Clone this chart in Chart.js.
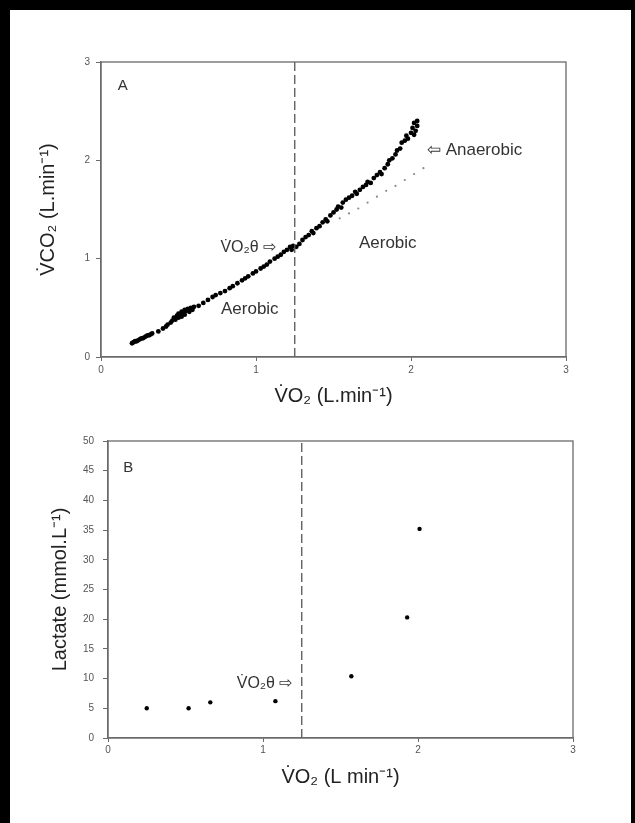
<!DOCTYPE html>
<html>
<head>
<meta charset="utf-8">
<script src="https://cdn.jsdelivr.net/npm/chart.js@4/dist/chart.umd.min.js"></script>
<style>
  html, body { margin: 0; padding: 0; background: #fff; }
  #page { position: relative; width: 635px; height: 823px; overflow: hidden; background: #fff; }
  #frame { position: absolute; left: 0; top: 0; width: 635px; height: 823px; box-sizing: border-box;
           border-left: 10px solid #000; border-top: 10px solid #000; border-right: 4px solid #000;
           pointer-events: none; }
  canvas { position: absolute; left: 0; }
  #chartA { top: 0; }
  #chartB { top: 420px; }
</style>
</head>
<body>
<div id="page">
  <canvas id="chartA" width="635" height="420"></canvas>
  <canvas id="chartB" width="635" height="403"></canvas>
  <div id="frame"></div>
</div>
<script>
// Panel A - measured VO2 / VCO2 (L/min)
var vo2A = [0.20, 0.21, 0.22, 0.23, 0.24, 0.25, 0.26, 0.27, 0.28, 0.29, 0.30, 0.31, 0.32, 0.33,
    0.37, 0.40, 0.42, 0.43,
    0.45, 0.46, 0.47, 0.48, 0.49, 0.50, 0.50, 0.51, 0.52, 0.52, 0.53, 0.54, 0.54, 0.55, 0.56, 0.57, 0.58, 0.59, 0.60,
    0.63, 0.66, 0.69, 0.72, 0.74, 0.77, 0.80, 0.83, 0.85, 0.88, 0.91, 0.93, 0.95, 0.98, 1.00, 1.03, 1.05, 1.07,
    1.09, 1.12, 1.14, 1.16, 1.18, 1.20, 1.22, 1.23, 1.24, 1.26,
    1.28, 1.30, 1.32, 1.34, 1.36, 1.37, 1.39, 1.41, 1.43, 1.45, 1.46, 1.48, 1.50, 1.52, 1.53, 1.55, 1.56, 1.58,
    1.60, 1.62, 1.64, 1.65, 1.67, 1.69, 1.71, 1.72, 1.74, 1.76, 1.78, 1.80, 1.81, 1.83, 1.85, 1.86, 1.88, 1.90,
    1.91, 1.93, 1.94, 1.96, 1.97, 1.98, 2.00, 2.01, 2.02, 2.03, 2.04, 2.02, 2.04];
var vco2A = [0.14, 0.15, 0.16, 0.16, 0.17, 0.18, 0.19, 0.19, 0.20, 0.21, 0.22, 0.22, 0.23, 0.24,
    0.26, 0.29, 0.31, 0.33,
    0.35, 0.37, 0.40, 0.38, 0.42, 0.40, 0.44, 0.43, 0.46, 0.41, 0.45, 0.48, 0.43, 0.47, 0.49, 0.46, 0.50, 0.48, 0.51,
    0.52, 0.55, 0.58, 0.61, 0.63, 0.65, 0.67, 0.70, 0.72, 0.75, 0.78, 0.80, 0.82, 0.85, 0.87, 0.90, 0.92, 0.94,
    0.97, 1.00, 1.02, 1.04, 1.07, 1.09, 1.12, 1.09, 1.13, 1.12,
    1.15, 1.19, 1.22, 1.24, 1.28, 1.26, 1.31, 1.33, 1.37, 1.40, 1.38, 1.44, 1.47, 1.50, 1.53, 1.52, 1.57, 1.60,
    1.62, 1.64, 1.68, 1.66, 1.70, 1.73, 1.75, 1.78, 1.77, 1.82, 1.85, 1.88, 1.86, 1.92, 1.96, 2.00, 2.02, 2.06,
    2.10, 2.12, 2.18, 2.20, 2.25, 2.22, 2.28, 2.33, 2.38, 2.30, 2.35, 2.26, 2.40];
// Panel A - aerobic (dotted) continuation
var vo2Dots = [1.54, 1.60, 1.66, 1.72, 1.78, 1.84, 1.90, 1.96, 2.02, 2.08];
var vco2Dots = [1.41, 1.46, 1.51, 1.57, 1.63, 1.69, 1.74, 1.80, 1.86, 1.92];
// Panel B - lactate (mmol/L)
var vo2B = [0.25, 0.52, 0.66, 1.08, 1.57, 1.93, 2.01];
var lactateB = [5.0, 5.0, 6.0, 6.2, 10.4, 20.3, 35.2];
// threshold VO2θ
var thresholdVO2 = 1.25;
// axis ticks
var xTicks = [0, 1, 2, 3];
var yTicksA = [0, 1, 2, 3];
var yTicksB = [0, 5, 10, 15, 20, 25, 30, 35, 40, 45, 50];

var FONT = "'Liberation Sans', Arial, sans-serif";
var AXIS = '#6a6a6a';

function pts(xs, ys) {
    return xs.map(function (x, i) { return {x: x, y: ys[i]}; });
}

// box around plot area + text notes placed in data coordinates
var framePlugin = {
    id: 'frame',
    afterDraw: function (chart, args, opts) {
        var ctx = chart.ctx, a = chart.chartArea;
        ctx.save();
        ctx.strokeStyle = AXIS;
        ctx.lineWidth = 1.3;
        ctx.strokeRect(a.left, a.top, a.right - a.left, a.bottom - a.top);
        ctx.fillStyle = '#333';
        ctx.textAlign = 'center';
        ctx.textBaseline = 'middle';
        (opts.notes || []).forEach(function (n) {
            ctx.font = n.size + 'px ' + FONT;
            ctx.fillText(n.text, chart.scales.x.getPixelForValue(n.x), chart.scales.y.getPixelForValue(n.y));
        });
        ctx.restore();
    }
};

function makeChart(id, cfg) {
    var yTicks = cfg.yTicks;
    return new Chart(document.getElementById(id).getContext('2d'), {
        type: 'scatter',
        data: {datasets: cfg.datasets},
        options: {
            responsive: false,
            animation: false,
            devicePixelRatio: 1,
            layout: {padding: cfg.padding},
            plugins: {legend: {display: false}, tooltip: {enabled: false}, frame: {notes: cfg.notes}},
            scales: {
                x: {
                    type: 'linear', min: xTicks[0], max: xTicks[xTicks.length - 1],
                    afterFit: function (s) { s.height = cfg.xHeight; },
                    ticks: {stepSize: 1, color: '#555', font: {family: FONT, size: 10}, padding: cfg.xTickPad},
                    grid: {drawOnChartArea: false, tickLength: 4, color: AXIS},
                    border: {color: AXIS, width: 1.3},
                    title: {display: true, text: cfg.xTitle, color: '#222', font: {family: FONT, size: 20},
                            padding: {top: 0, bottom: cfg.xTitlePad}}
                },
                y: {
                    type: 'linear', min: yTicks[0], max: yTicks[yTicks.length - 1],
                    afterFit: function (s) { s.width = cfg.yWidth; },
                    ticks: {stepSize: yTicks[1] - yTicks[0], color: '#555', font: {family: FONT, size: 10}, padding: cfg.yTickPad},
                    grid: {drawOnChartArea: false, tickLength: 5, color: AXIS},
                    border: {color: AXIS, width: 1.3},
                    title: {display: true, text: cfg.yTitle, color: '#222', font: {family: FONT, size: 20},
                            padding: {top: cfg.yTitlePad, bottom: 0}}
                }
            }
        },
        plugins: [framePlugin]
    });
}

function thresholdLine(yMax) {
    return {
        type: 'line', data: [{x: thresholdVO2, y: 0}, {x: thresholdVO2, y: yMax}],
        borderColor: '#555', borderWidth: 1.3, borderDash: [9, 4], pointRadius: 0, fill: false
    };
}

makeChart('chartA', {
    padding: {left: 0, top: 62, right: 69, bottom: 0},
    xHeight: 63, yWidth: 101, xTickPad: 3, yTickPad: 6, xTitlePad: 12, yTitlePad: 36,
    xTitle: 'V\u0307O\u2082 (L.min\u207B\u00B9)',
    yTitle: 'V\u0307CO\u2082 (L.min\u207B\u00B9)',
    yTicks: yTicksA,
    datasets: [
        thresholdLine(yTicksA[yTicksA.length - 1]),
        {data: pts(vo2Dots, vco2Dots), pointRadius: 1.1, pointBackgroundColor: '#8a8a8a', pointBorderWidth: 0},
        {data: pts(vo2A, vco2A), pointRadius: 2.4, pointBackgroundColor: '#000', pointBorderWidth: 0}
    ],
    notes: [
        {text: 'A', x: 0.14, y: 2.76, size: 15},
        {text: 'V\u0307O\u2082\u03B8 \u21E8', x: 0.95, y: 1.11, size: 16},
        {text: 'Aerobic', x: 0.96, y: 0.48, size: 17},
        {text: '\u21E6 Anaerobic', x: 2.41, y: 2.10, size: 17},
        {text: 'Aerobic', x: 1.85, y: 1.16, size: 17}
    ]
});

makeChart('chartB', {
    padding: {left: 0, top: 21, right: 62, bottom: 0},
    xHeight: 85, yWidth: 108, xTickPad: 2, yTickPad: 9, xTitlePad: 34, yTitlePad: 48,
    xTitle: 'V\u0307O\u2082 (L min\u207B\u00B9)',
    yTitle: 'Lactate (mmol.L\u207B\u00B9)',
    yTicks: yTicksB,
    datasets: [
        thresholdLine(yTicksB[yTicksB.length - 1]),
        {data: pts(vo2B, lactateB), pointRadius: 2.2, pointBackgroundColor: '#000', pointBorderWidth: 0}
    ],
    notes: [
        {text: 'B', x: 0.13, y: 45.5, size: 15},
        {text: 'V\u0307O\u2082\u03B8 \u21E8', x: 1.01, y: 9.2, size: 16}
    ]
});
</script>
</body>
</html>
